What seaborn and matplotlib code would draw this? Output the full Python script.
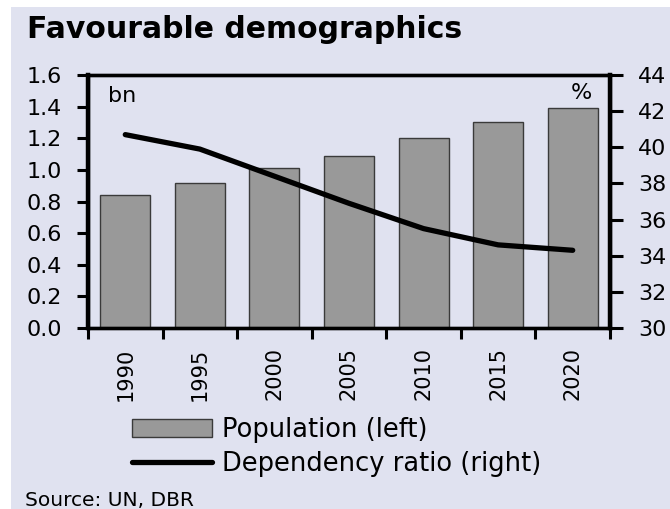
import numpy as np
import pandas as pd
import matplotlib
matplotlib.use("Agg")
import matplotlib.pyplot as plt
import seaborn as sns
from matplotlib.patches import Rectangle
from matplotlib.lines import Line2D
from matplotlib.ticker import FixedLocator, FormatStrFormatter

# --- data ---
years = ["1990", "1995", "2000", "2005", "2010", "2015", "2020"]
population_bn = [0.84, 0.92, 1.01, 1.09, 1.20, 1.30, 1.39]
dependency_ratio = [40.7, 39.9, 38.4, 36.9, 35.5, 34.6, 34.3]

df = pd.DataFrame({"year": years, "population": population_bn, "ratio": dependency_ratio})

BG = "#e0e2f0"
BAR = "#999999"

sns.set_style("ticks")
plt.rcParams["font.family"] = ["DejaVu Sans"]
plt.rcParams["text.color"] = "black"
plt.rcParams["xtick.color"] = "black"
plt.rcParams["ytick.color"] = "black"
plt.rcParams["axes.linewidth"] = 2.4

fig = plt.figure(figsize=(6.7, 5.09), dpi=100, facecolor="white")
# lavender panel with a thin white margin top/left
fig.patches.append(Rectangle((11 / 670, 0), 1, 1 - 7 / 509, transform=fig.transFigure,
                             facecolor=BG, edgecolor="none", zorder=-10))

ax = fig.add_axes([88 / 670, 1 - 328 / 509, (610 - 88) / 670, (328 - 75) / 509])
ax.set_facecolor(BG)
sns.barplot(data=df, x="year", y="population", ax=ax, color=BAR, saturation=1,
            width=0.67, edgecolor="#3a3a3a", linewidth=1.0)
ax.set_xlim(-0.5, len(years) - 0.5)
ax.set_ylim(0, 1.6)
ax.set_yticks(np.arange(0, 1.61, 0.2))
ax.yaxis.set_major_formatter(FormatStrFormatter("%.1f"))
ax.set_xlabel("")
ax.set_ylabel("")

# year labels centred, tick marks at category boundaries
ax.set_xticks(range(len(years)))
ax.set_xticklabels(years, rotation=90, fontsize=15)
ax.xaxis.set_minor_locator(FixedLocator(np.arange(-0.5, len(years), 1.0)))
ax.tick_params(axis="x", which="major", length=0, pad=14)
ax.tick_params(axis="x", which="minor", length=8, width=2.2, direction="out")
ax.tick_params(axis="y", length=8, width=2.2, direction="out", labelsize=16, pad=11)

ax2 = ax.twinx()
sns.lineplot(x=np.arange(len(years)), y=df["ratio"], ax=ax2, color="black",
             linewidth=3.8, solid_capstyle="round")
ax2.set_ylim(30, 44)
ax2.set_yticks(np.arange(30, 45, 2))
ax2.set_ylabel("")
ax2.tick_params(axis="y", length=9, width=2.2, direction="out", labelsize=16, pad=11)
for a in (ax, ax2):
    for s in a.spines.values():
        s.set_visible(True)
        s.set_linewidth(2.4)
        s.set_color("black")
ax.spines["left"].set_linewidth(3.2)
ax2.spines["right"].set_linewidth(3.2)

ax.text(0.038, 0.955, "bn", transform=ax.transAxes, fontsize=16, va="top", ha="left")
ax2.text(0.965, 0.97, "%", transform=ax2.transAxes, fontsize=16, va="top", ha="right")

fig.text(27 / 670, 1 - 15 / 509, "Favourable demographics", fontsize=21.5,
         fontweight="bold", va="top", ha="left")
fig.text(25 / 670, 1 - 506 / 509, "Source: UN, DBR", fontsize=14.5, va="baseline", ha="left")

handles = [Rectangle((0, 0), 1, 1, facecolor=BAR, edgecolor="#3a3a3a", linewidth=1.0),
           Line2D([], [], color="black", linewidth=3.8, solid_capstyle="round")]
fig.legend(handles, ["Population (left)", "Dependency ratio (right)"],
           loc="upper left", bbox_to_anchor=(132 / 670, 1 - 417 / 509),
           frameon=False, fontsize=18.5, handlelength=3.1, handletextpad=0.4,
           labelspacing=0.3, borderpad=0, borderaxespad=0)

fig.savefig("out.png", dpi=100, facecolor=fig.get_facecolor())
